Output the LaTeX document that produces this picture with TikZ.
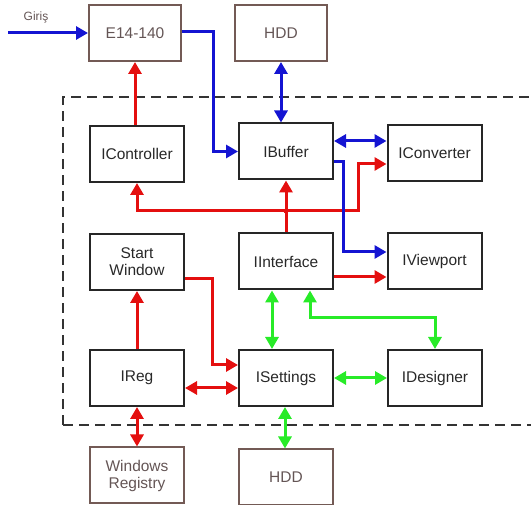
\documentclass[tikz,border=0pt]{standalone}
\usepackage{fontspec}
\setmainfont{Liberation Sans}
\usetikzlibrary{arrows.meta}
\definecolor{cblue}{RGB}{20,20,210}
\definecolor{cred}{RGB}{228,15,15}
\definecolor{cgreen}{RGB}{40,235,40}
\definecolor{outerline}{RGB}{115,90,85}
\definecolor{outertext}{RGB}{100,85,85}
\definecolor{innertext}{RGB}{40,40,40}
\begin{document}
\begin{tikzpicture}[x=1pt,y=-1pt,
  inner/.style={draw=black!85,line width=2pt,minimum width=94pt,minimum height=56pt,
    align=center,text=innertext,font=\fontsize{15.5}{17}\selectfont,inner sep=0pt},
  outer/.style={draw=outerline,line width=2pt,minimum width=92pt,minimum height=56pt,
    align=center,text=outertext,font=\fontsize{15.5}{17}\selectfont,inner sep=0pt},
  conn/.style={line width=3pt,line join=miter},
  bl/.style={conn,draw=cblue},
  rd/.style={conn,draw=cred},
  gr/.style={conn,draw=cgreen},
  tip/.style={-{Triangle[length=12pt,width=13pt]}},
  tips/.style={{Triangle[length=12pt,width=13pt]}-{Triangle[length=12pt,width=13pt]}},
  frame/.style={draw=black!80,line width=2.2pt,dash pattern=on 10pt off 6pt}
]
\useasboundingbox (0,0) rectangle (531,505);
\clip (0,0) rectangle (531,505);

% frame
\draw[frame] (63,425) -- (63,97) -- (560,97) (63,425) -- (560,425);

% nodes
\node[outer] (e14) at (135,33) {E14-140};
\node[outer] (hddt) at (281,33) {HDD};
\node[inner] (ictrl) at (137,154) {IController};
\node[inner] (ibuf) at (286,151.5) {IBuffer};
\node[inner] (iconv) at (434.5,153) {IConverter};
\node[inner] (start) at (137,262) {Start\\Window};
\node[inner] (iint) at (286,261.5) {IInterface};
\node[inner] (iview) at (434.5,261.5) {IViewport};
\node[inner] (ireg) at (137,378) {IReg};
\node[inner] (iset) at (286,378) {ISettings};
\node[inner] (ides) at (435,378) {IDesigner};
\node[outer,minimum width=94pt] (winreg) at (137,475.5) {Windows\\Registry};
\node[outer,minimum width=94pt] (hddb) at (286,477.5) {HDD};

\node[text=outertext,font=\fontsize{12}{14}\selectfont] (giris) at (36,17) {Giriş};
\coordinate (in) at (8,33);

% red connectors
\draw[rd,tip] (e14.south |- ictrl.north) -- (e14.south);
\coordinate (j) at (iint.north |- 0,211);
\draw[rd,tip] (iint.north) -- (ibuf.south);
\draw[rd,tip] (j) -| (ictrl.south);
\draw[rd,tip] (j) -- (358,211) |- (iconv.west |- 0,164);
\fill[cred] (j) circle (2.5pt);
\draw[rd,tip] (iint.east |- 0,277) -- (iview.west |- 0,277);
\draw[rd,tip] (start.east |- 0,279) -- (212,279) |- (iset.west |- 0,365);
\draw[rd,tip] (ireg.north) -- (start.south);
\draw[rd,tips] (ireg.east |- 0,388) -- (iset.west |- 0,388);
\draw[rd,tips] (ireg.south) -- (winreg.north);

% blue connectors
\draw[bl,tip] (in) -- (e14.west);
\draw[bl,tip] (e14.east |- 0,32) -- (213,32) |- (ibuf.west);
\draw[bl,tips] (hddt.south) -- (hddt.south |- ibuf.north);
\draw[bl,tips] (ibuf.east |- 0,141) -- (iconv.west |- 0,141);
\draw[bl,tip] (ibuf.east |- 0,162) -- (343,162) |- (iview.west |- 0,252);

% green connectors
\draw[gr,tips] (iint.south -| 272,0) -- (iset.north -| 272,0);
\draw[gr,tips] (iint.south -| 310,0) -- (310,318) -| (ides.north);
\draw[gr,tips] (iset.east) -- (ides.west);
\draw[gr,tips] (iset.south -| 285,0) -- (hddb.north -| 285,0);
\end{tikzpicture}
\end{document}
